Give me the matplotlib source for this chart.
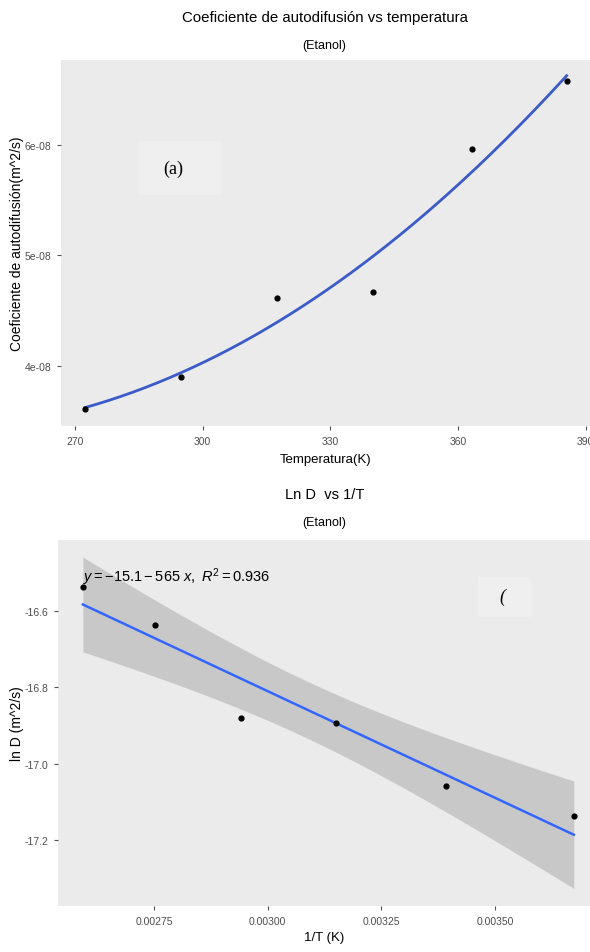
import numpy as np
from matplotlib import pyplot as plt
from matplotlib.patches import Rectangle

# datos
temperatura = [272.3, 294.8, 317.5, 340.1, 363.3, 385.5]
difusion = [3.61e-8, 3.90e-8, 4.61e-8, 4.67e-8, 5.96e-8, 6.58e-8]

x_ticks_top = [270, 300, 330, 360, 390]
y_ticks_top = [4e-8, 5e-8, 6e-8]
y_labels_top = ['4e-08', '5e-08', '6e-08']
x_ticks_bot = [0.00275, 0.00300, 0.00325, 0.00350]
x_labels_bot = ['0.00275', '0.00300', '0.00325', '0.00350']
y_ticks_bot = [-17.2, -17.0, -16.8, -16.6]
y_labels_bot = ['-17.2', '-17.0', '-16.8', '-16.6']

inv_t = 1.0 / np.array(temperatura)
ln_d = np.log(np.array(difusion))

plt.rcParams['font.family'] = ['Liberation Sans', 'DejaVu Sans']
plt.rcParams['mathtext.fontset'] = 'custom'
plt.rcParams['mathtext.rm'] = 'Liberation Sans'
plt.rcParams['mathtext.it'] = 'Liberation Sans:italic'

bg = '#EBEBEB'
tick_col = '#4D4D4D'

fig = plt.figure(figsize=(5.9, 9.53), dpi=100)


def style_axes(ax):
    ax.set_facecolor(bg)
    for s in ax.spines.values():
        s.set_visible(False)
    ax.tick_params(length=3, width=0.8, color='#555555', labelcolor=tick_col,
                   labelsize=7.5, pad=4)


# ---- grafico (a)
ax1 = fig.add_axes([0.1034, 0.552, 0.8966, 0.384])
style_axes(ax1)
coef = np.polyfit(temperatura, difusion, 2)
tt = np.linspace(min(temperatura), max(temperatura), 200)
ax1.plot(tt, np.polyval(coef, tt), color='#3A5BC8', lw=2, zorder=2)
ax1.scatter(temperatura, difusion, color='black', s=12, zorder=3)
ax1.set_xlim(266.7, 391)
ax1.set_ylim(3.455e-8, 6.77e-8)
ax1.set_xticks(x_ticks_top)
ax1.set_yticks(y_ticks_top, y_labels_top)
ax1.set_xlabel('Temperatura(K)', fontsize=9.5, labelpad=5)
ax1.set_ylabel('Coeficiente de autodifusión(m^2/s)', fontsize=10, labelpad=0.5)
ax1.add_patch(Rectangle((0.148, 0.63), 0.155, 0.15, transform=ax1.transAxes,
                        facecolor='#EFEFEF', edgecolor='none', zorder=1))
ax1.text(0.213, 0.705, '(a)', transform=ax1.transAxes, family='Liberation Serif',
         fontsize=13, ha='center', va='center')
fig.text(0.55, 0.981, 'Coeficiente de autodifusión vs temperatura', ha='center',
         va='center', fontsize=10.8)
fig.text(0.55, 0.952, '(Etanol)', ha='center', va='center', fontsize=9)

# ---- grafico (b)
ax2 = fig.add_axes([0.098, 0.0483, 0.902, 0.384])
style_axes(ax2)
n = len(inv_t)
b1, b0 = np.polyfit(inv_t, ln_d, 1)
pred = b0 + b1 * inv_t
r2 = 1 - np.sum((ln_d - pred) ** 2) / np.sum((ln_d - ln_d.mean()) ** 2)
s = np.sqrt(np.sum((ln_d - pred) ** 2) / (n - 2))
xx = np.linspace(inv_t.min(), inv_t.max(), 200)
yy = b0 + b1 * xx
se = s * np.sqrt(1 / n + (xx - inv_t.mean()) ** 2 / np.sum((inv_t - inv_t.mean()) ** 2))
t_crit = 2.776  # t(0.975, 4)
ax2.fill_between(xx, yy - t_crit * se, yy + t_crit * se, color='#C8C8C8', lw=0, zorder=1)
ax2.plot(xx, yy, color='#3366FF', lw=1.8, zorder=2)
ax2.scatter(inv_t, ln_d, color='black', s=12, zorder=3)
ax2.set_xlim(0.002539, 0.003708)
ax2.set_ylim(-17.373, -16.414)
ax2.set_xticks(x_ticks_bot, x_labels_bot)
ax2.set_yticks(y_ticks_bot, y_labels_bot)
ax2.set_xlabel('1/T (K)', fontsize=9.5, labelpad=4)
ax2.set_ylabel('ln D (m^2/s)', fontsize=10, labelpad=0.5)
ax2.text(0.047, 0.9, r'$y = -15.1 - 565\ x,\ R^2 = %.3f$' % r2, transform=ax2.transAxes,
         fontsize=10.5, ha='left', va='center', zorder=4)
ax2.add_patch(Rectangle((0.79, 0.79), 0.10, 0.11, transform=ax2.transAxes,
                        facecolor='#EFEFEF', edgecolor='none', zorder=1))
ax2.text(0.835, 0.845, '(', transform=ax2.transAxes, family='Liberation Serif',
         fontsize=13, ha='center', va='center', style='italic')
fig.text(0.55, 0.481, 'Ln D  vs 1/T', ha='center', va='center', fontsize=10.5)
fig.text(0.55, 0.451, '(Etanol)', ha='center', va='center', fontsize=9)

plt.savefig('out.png', dpi=100)
